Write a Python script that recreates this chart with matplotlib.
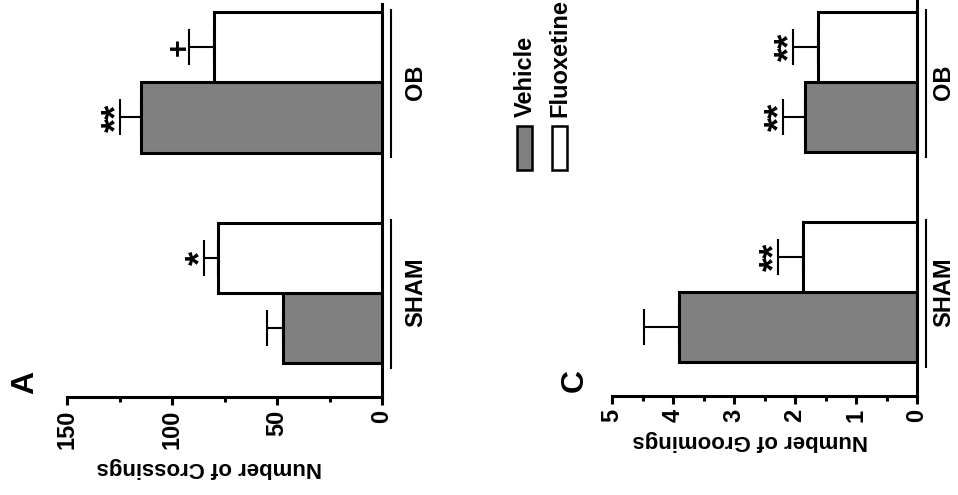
import numpy as np
import matplotlib
matplotlib.use('Agg')
import matplotlib.pyplot as plt
from matplotlib.patches import Rectangle
from matplotlib.transforms import blended_transform_factory

groups = ['SHAM', 'OB']
treatments = ['Vehicle', 'Fluoxetine']

# panel A - crossings
crossings_veh = [47, 115]
crossings_veh_err = [8, 10]
crossings_flx = [78, 80]
crossings_flx_err = [7, 12]
crossings_veh_sig = ['', '**']
crossings_flx_sig = ['*', '+']

# panel C - groomings
groomings_veh = [3.9, 1.84]
groomings_veh_err = [0.57, 0.36]
groomings_flx = [1.87, 1.62]
groomings_flx_err = [0.41, 0.41]
groomings_veh_sig = ['', '**']
groomings_flx_sig = ['**', '**']

plt.rcParams['font.family'] = ['Liberation Sans', 'DejaVu Sans']
plt.rcParams['font.weight'] = 'bold'
plt.rcParams['axes.labelweight'] = 'bold'

W, H = 958, 495
fig = plt.figure(figsize=(W / 100, H / 100), dpi=100)


def px_axes(x0, y0, x1, y1):
    return fig.add_axes([x0 / W, 1 - y1 / H, (x1 - x0) / W, (y1 - y0) / H])


def panel(ax, veh, veh_err, flx, flx_err, veh_sig, flx_sig, vmax, major, minor, label, top, gpad):
    pos = np.arange(len(groups)) * 3
    ax.barh(pos - 0.5, veh, height=1, color='#808080', edgecolor='k', linewidth=2.2, zorder=2)
    ax.barh(pos + 0.5, flx, height=1, color='white', edgecolor='k', linewidth=2.2, zorder=2)
    for vals, errs, sigs, off in [(veh, veh_err, veh_sig, -0.5), (flx, flx_err, flx_sig, 0.5)]:
        ax.errorbar(vals, pos + off, xerr=[np.zeros(len(vals)), errs], fmt='none', ecolor='k',
                    elinewidth=1.5, capsize=13, capthick=1.5, zorder=1)
        for v, e, s, p in zip(vals, errs, sigs, pos + off):
            if s:
                if '*' in s:
                    fs, shift = 26, 11
                else:
                    fs, shift = 22, 4
                ax.annotate(s, xy=(v + e, p), xytext=(shift, 0), textcoords='offset points',
                            rotation=90, ha='right', va='center', fontsize=fs)
    ax.set_xlim(vmax, 0)
    ax.set_ylim(-1.49, top)
    for s in ['top', 'left']:
        ax.spines[s].set_visible(False)
    for s in ['bottom', 'right']:
        ax.spines[s].set_linewidth(2.2)
    ax.set_xticks(major)
    ax.set_xticks(minor, minor=True)
    ax.tick_params(axis='x', which='major', length=6, width=2.2, labelsize=17, labelrotation=90, pad=3)
    ax.tick_params(axis='x', which='minor', length=3.5, width=2.2)
    ax.set_yticks(pos, groups)
    ax.yaxis.tick_right()
    ax.tick_params(axis='y', length=0, pad=gpad, labelsize=17, labelrotation=90)
    for t in ax.get_yticklabels():
        t.set_va('center')
    ax.set_xlabel(label, fontsize=16, rotation=180, labelpad=6)
    ax.xaxis.label.set_x(0.453)
    trans = blended_transform_factory(ax.transAxes, ax.transData)
    for p in pos:
        ax.plot([1.03, 1.03], [p - 1.07, p + 1.03], transform=trans, color='k', lw=1.5, clip_on=False)


ax_a = px_axes(67, 4, 382, 397)
panel(ax_a, crossings_veh, crossings_veh_err, crossings_flx, crossings_flx_err,
      crossings_veh_sig, crossings_flx_sig, 150, [0, 50, 100, 150], [25, 75, 125],
      'Number of Crossings', 4.12, 16)

ax_c = px_axes(612, 0, 917, 396)
panel(ax_c, groomings_veh, groomings_veh_err, groomings_flx, groomings_flx_err,
      groomings_veh_sig, groomings_flx_sig, 5, [0, 1, 2, 3, 4, 5], np.arange(0.5, 5, 1),
      'Number of Groomings', 4.17, 11)

fig.text(25 / W, 1 - 382 / H, 'A', fontsize=23, rotation=90, ha='center', va='center')
fig.text(575 / W, 1 - 380 / H, 'C', fontsize=23, rotation=90, ha='center', va='center')

# legend, drawn rotated like the rest of the figure
for name, color, x in [(treatments[0], '#808080', 517), (treatments[1], 'white', 552)]:
    fig.add_artist(Rectangle((x / W, 1 - 170 / H), 15 / W, 44 / H, transform=fig.transFigure,
                             facecolor=color, edgecolor='k', linewidth=1.8))
    fig.text((x + 8) / W, 1 - 117 / H, name, fontsize=17, rotation=90, ha='center', va='bottom')

fig.savefig('out.png', dpi=100)
